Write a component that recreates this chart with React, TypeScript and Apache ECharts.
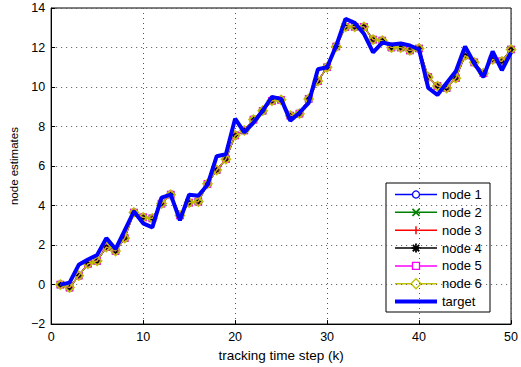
import React, { useEffect, useRef } from "react";
import * as echarts from "echarts";

const steps: number[] = Array.from({ length: 50 }, (_, i) => i + 1);

const targetValues: number[] = [
  0.0, 0.1, 1.0, 1.27, 1.5, 2.35, 1.8, 2.75, 3.7, 3.1,
  2.9, 4.4, 4.55, 3.25, 4.55, 4.5, 5.05, 6.5, 6.6, 8.4,
  7.7, 8.2, 8.8, 9.5, 9.4, 8.3, 8.7, 9.2, 10.9, 11.0,
  12.1, 13.45, 13.25, 12.7, 11.75, 12.25, 12.15, 12.2, 12.1, 11.9,
  9.95, 9.6, 10.2, 10.8, 12.05, 11.2, 10.5, 11.8, 10.85, 11.75,
];

const nodeEstimates: number[] = [
  0.0, -0.15, 0.45, 1.05, 1.2, 1.9, 1.7, 2.35, 3.65, 3.4,
  3.35, 4.1, 4.55, 3.5, 4.15, 4.2, 5.1, 5.8, 6.35, 7.55,
  7.8, 8.35, 8.8, 9.3, 9.35, 8.55, 8.65, 9.4, 10.3, 11.0,
  12.05, 13.05, 13.05, 13.05, 12.4, 12.35, 12.0, 12.0, 11.85, 11.95,
  10.5, 10.05, 9.95, 10.45, 11.6, 11.25, 10.7, 11.4, 11.3, 11.9,
];

const nodeNames: string[] = ["node 1", "node 2", "node 3", "node 4", "node 5", "node 6"];
const nodeColors: string[] = ["#0000ff", "#008000", "#ff0000", "#000000", "#ff00ff", "#bfbf00"];
const nodeSymbols: string[] = [
  "path://M10,5A5,5,0,1,1,0,5A5,5,0,1,1,10,5Z",
  "path://M0,0L10,10M10,0L0,10",
  "path://M5,0L5,10M0,5L10,5",
  "path://M5,0L5,10M0,5L10,5M1.5,1.5L8.5,8.5M8.5,1.5L1.5,8.5",
  "path://M0,0L10,0L10,10L0,10Z",
  "path://M5,0L10,5L5,10L0,5Z",
];
const nodeSymbolSizes: number[] = [7, 7, 7, 7, 6.5, 9];
const targetName = "target";
const targetColor = "#0000ff";

const xTicks = { min: 0, max: 50, interval: 10 };
const yTicks = { min: -2, max: 14, interval: 2 };

const FONT = "Liberation Sans, Arial, Helvetica, sans-serif";

function legendMarker(i: number, cx: number, cy: number): any[] {
  const c = nodeColors[i];
  const st = { stroke: c, lineWidth: 1.3, fill: "none" };
  const r = 3.5;
  switch (i) {
    case 0:
      return [{ type: "circle", shape: { cx, cy, r }, style: { ...st, fill: "#fff" } }];
    case 1:
      return [
        { type: "line", shape: { x1: cx - r, y1: cy - r, x2: cx + r, y2: cy + r }, style: { ...st, lineWidth: 1.8 } },
        { type: "line", shape: { x1: cx + r, y1: cy - r, x2: cx - r, y2: cy + r }, style: { ...st, lineWidth: 1.8 } },
      ];
    case 2:
      return [
        { type: "line", shape: { x1: cx, y1: cy - 4, x2: cx, y2: cy + 4 }, style: { ...st, lineWidth: 1.5 } },
      ];
    case 3:
      return [
        { type: "line", shape: { x1: cx, y1: cy - 4.5, x2: cx, y2: cy + 4.5 }, style: { ...st, lineWidth: 1.8 } },
        { type: "line", shape: { x1: cx - 4.5, y1: cy, x2: cx + 4.5, y2: cy }, style: { ...st, lineWidth: 1.8 } },
        { type: "line", shape: { x1: cx - 3.2, y1: cy - 3.2, x2: cx + 3.2, y2: cy + 3.2 }, style: { ...st, lineWidth: 1.8 } },
        { type: "line", shape: { x1: cx + 3.2, y1: cy - 3.2, x2: cx - 3.2, y2: cy + 3.2 }, style: { ...st, lineWidth: 1.8 } },
      ];
    case 4:
      return [{ type: "rect", shape: { x: cx - 3.5, y: cy - 3.5, width: 7, height: 7 }, style: { ...st, fill: "#fff" } }];
    default:
      return [
        {
          type: "polygon",
          shape: { points: [[cx, cy - 5], [cx + 5, cy], [cx, cy + 5], [cx - 5, cy]] },
          style: { ...st, fill: "#fff" },
        },
      ];
  }
}

function buildLegend(): any {
  const boxX = 386;
  const boxY = 183;
  const boxW = 104;
  const boxH = 129;
  const rowY0 = 194.5;
  const rowStep = 17.85;
  const lx1 = 395;
  const lx2 = 437;
  const children: any[] = [
    { type: "rect", shape: { x: boxX, y: boxY, width: boxW, height: boxH }, style: { fill: "#fff", stroke: "#000", lineWidth: 1 } },
  ];
  const names = [...nodeNames, targetName];
  names.forEach((name, i) => {
    const y = rowY0 + i * rowStep;
    const isTarget = i === nodeNames.length;
    const color = isTarget ? targetColor : nodeColors[i];
    children.push({
      type: "line",
      shape: { x1: lx1, y1: y, x2: lx2, y2: y },
      style: { stroke: color, lineWidth: isTarget ? 4 : 1.5 },
    });
    if (!isTarget) children.push(...legendMarker(i, (lx1 + lx2) / 2, y));
    children.push({
      type: "text",
      x: 442,
      y,
      style: { text: name, fill: "#000", font: `13px ${FONT}`, textVerticalAlign: "middle", verticalAlign: "middle" },
    });
  });
  return { type: "group", children, z: 100 };
}

export default function App() {
  const ref = useRef<HTMLDivElement>(null);
  useEffect(() => {
    if (!ref.current) return;
    const chart = echarts.init(ref.current, null, { renderer: "svg" });
    const nodeSeries = nodeNames.map((name, i) => ({
      name,
      type: "line",
      data: steps.map((k, j) => [k, nodeEstimates[j]]),
      symbol: nodeSymbols[i],
      symbolSize: nodeSymbolSizes[i],
      showSymbol: true,
      lineStyle: { color: nodeColors[i], width: 1.2 },
      itemStyle: { color: "rgba(0,0,0,0)", borderColor: nodeColors[i], borderWidth: i === 5 ? 1.6 : 1.2 },
      emphasis: { disabled: true },
      z: 2 + i,
    }));
    const option: any = {
      animation: false,
      textStyle: { fontFamily: FONT },
      grid: {
        left: 48,
        right: 5,
        top: 8,
        bottom: 40,
        show: true,
        borderColor: "#000",
        borderWidth: 1,
        backgroundColor: "#fff",
      },
      xAxis: {
        type: "value",
        min: xTicks.min,
        max: xTicks.max,
        interval: xTicks.interval,
        name: "tracking time step (k)",
        nameLocation: "middle",
        nameGap: 19,
        nameTextStyle: { fontFamily: FONT, fontSize: 13.5, color: "#000", verticalAlign: "top" },
        axisLine: { show: true, onZero: false, lineStyle: { color: "#000", width: 1 } },
        axisTick: { show: true, inside: true, length: 4, lineStyle: { color: "#000" } },
        axisLabel: { fontFamily: FONT, fontSize: 12.5, color: "#000", margin: 6 },
        splitLine: { show: true, lineStyle: { color: "#555", type: [1, 4], width: 1 } },
      },
      yAxis: {
        type: "value",
        min: yTicks.min,
        max: yTicks.max,
        interval: yTicks.interval,
        name: "node estimates",
        nameLocation: "middle",
        nameGap: 30,
        nameRotate: 90,
        nameTextStyle: { fontFamily: FONT, fontSize: 11.5, color: "#000" },
        axisLine: { show: true, lineStyle: { color: "#000", width: 1 } },
        axisTick: { show: true, inside: true, length: 4, lineStyle: { color: "#000" } },
        axisLabel: {
          fontFamily: FONT,
          fontSize: 12.5,
          color: "#000",
          margin: 6,
          formatter: (v: number) => String(v).replace("-", "\u2212"),
        },
        splitLine: { show: true, lineStyle: { color: "#555", type: [1, 4], width: 1 } },
      },
      graphic: [buildLegend()],
      series: [
        ...nodeSeries,
        {
          name: targetName,
          type: "line",
          data: steps.map((k, j) => [k, targetValues[j]]),
          symbol: "none",
          lineStyle: { color: targetColor, width: 4 },
          itemStyle: { color: targetColor },
          emphasis: { disabled: true },
          z: 10,
        },
      ],
    };
    chart.setOption(option);
    return () => chart.dispose();
  }, []);
  return (
    <div
      ref={ref}
      style={{ position: "fixed", left: 0, top: 0, width: 521, height: 367, background: "#fff" }}
    />
  );
}
